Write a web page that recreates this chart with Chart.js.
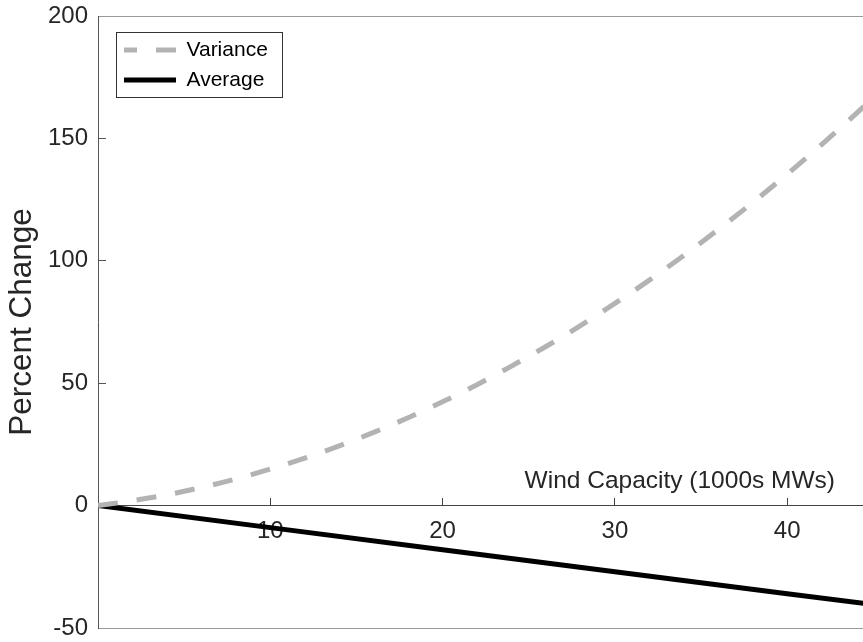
<!DOCTYPE html>
<html>
<head>
<meta charset="utf-8">
<script src="https://cdn.jsdelivr.net/npm/chart.js@4/dist/chart.umd.min.js"></script>
<style>
  html, body { margin: 0; padding: 0; background: #ffffff; }
  #c { display: block; }
</style>
</head>
<body>
<canvas id="c" width="863" height="642"></canvas>
<script>
// Wind capacity (thousands of MW) at which the variance curve was sampled
const capacity = [0, 2, 4, 6, 8, 10, 12, 14, 16, 18, 20, 22, 24, 26, 28, 30, 32, 34, 36, 38, 40, 42, 44, 44.5];
// Percent change in variance
const variancePct = [0, 2.0, 4.4, 7.4, 10.9, 14.9, 19.4, 24.4, 29.9, 35.9, 42.4, 49.4, 57.0, 65.0, 73.5, 82.6, 92.1, 102.2, 112.8, 123.8, 135.4, 147.5, 160.1, 163.3];
// Percent change in the average
const averageCapacity = [0, 10, 20, 30, 40, 44.5];
const averagePct = [0, -9, -18, -27, -36, -40];

// Axis ticks
const xTickValues = [10, 20, 30, 40];
const yTickValues = [-50, 0, 50, 100, 150, 200];
const xMin = 0, xMax = 44.4;
const yMin = -50, yMax = 200;

const FONT = '"Liberation Sans", Arial, Helvetica, sans-serif';
const TEXT = '#262626';
const xTitle = 'Wind Capacity (1000s MWs)';

function points(xs, ys) {
  return xs.map((x, i) => ({ x: x, y: ys[i] }));
}

// Places the legend inside the plot, draws its frame and the x-axis caption
const decorations = {
  id: 'decorations',
  afterLayout(chart) {
    const lg = chart.legend;
    const ca = chart.chartArea;
    lg.left = ca.left + 17;
    lg.top = ca.top + 14.5;
    lg.right = lg.left + lg.width;
    lg.bottom = lg.top + lg.height;
  },
  afterDraw(chart) {
    const ctx = chart.ctx;
    const lg = chart.legend;
    const ca = chart.chartArea;
    const pad = lg.options.labels.padding;
    const rows = lg.legendHitBoxes;
    const last = rows[rows.length - 1];
    const w = Math.max.apply(null, rows.map(r => r.width));
    // frame around the legend entries
    const fx = Math.round(lg.left) + 1.5;
    const fy = Math.round(lg.top) + 1.5;
    const fw = Math.round(pad + w + 13);
    const fh = Math.round(2 * pad + rows.length * last.height + (rows.length - 1) * pad - 4);
    ctx.save();
    ctx.strokeStyle = '#333333';
    ctx.lineWidth = 1;
    ctx.strokeRect(fx, fy, fw, fh);
    ctx.fillStyle = TEXT;
    ctx.font = '24.5px ' + FONT;
    ctx.textAlign = 'right';
    ctx.textBaseline = 'alphabetic';
    ctx.fillText(xTitle, ca.right - 28, chart.scales.y.getPixelForValue(0) - 18);
    ctx.restore();
  }
};

new Chart(document.getElementById('c'), {
  type: 'line',
  data: {
    datasets: [
      {
        label: 'Variance',
        data: points(capacity, variancePct),
        borderColor: '#b3b3b3',
        backgroundColor: '#b3b3b3',
        borderWidth: 5,
        borderDash: [20, 19],
        pointRadius: 0,
        cubicInterpolationMode: 'monotone',
        fill: false
      },
      {
        label: 'Average',
        data: points(averageCapacity, averagePct),
        borderColor: '#000000',
        backgroundColor: '#000000',
        borderWidth: 5,
        pointRadius: 0,
        fill: false
      }
    ]
  },
  options: {
    responsive: false,
    animation: false,
    events: [],
    layout: { padding: { top: 16, bottom: 14, left: 0, right: 0 } },
    scales: {
      x: {
        type: 'linear',
        position: { y: 0 },
        min: xMin,
        max: xMax,
        afterBuildTicks(scale) { scale.ticks = xTickValues.map(v => ({ value: v })); },
        grid: { display: true, drawOnChartArea: false, drawTicks: true, tickLength: -8, tickColor: '#444444', tickWidth: 1 },
        border: { display: true, color: '#444444', width: 1 },
        ticks: { color: TEXT, font: { family: FONT, size: 24 }, padding: 19, maxRotation: 0, autoSkip: false }
      },
      xTop: {
        type: 'linear',
        position: 'top',
        min: xMin,
        max: xMax,
        grid: { display: false, drawTicks: false },
        border: { display: true, color: '#9a9a9a', width: 1 },
        ticks: { display: false }
      },
      xBottom: {
        type: 'linear',
        position: 'bottom',
        min: xMin,
        max: xMax,
        grid: { display: false, drawTicks: false },
        border: { display: true, color: '#9a9a9a', width: 1 },
        ticks: { display: false }
      },
      y: {
        type: 'linear',
        position: 'left',
        min: yMin,
        max: yMax,
        afterBuildTicks(scale) { scale.ticks = yTickValues.map(v => ({ value: v })); },
        afterFit(scale) {
          scale.width = 98;
          scale.paddingTop = 0;
          scale.paddingBottom = 0;
        },
        grid: { display: true, drawOnChartArea: false, drawTicks: true, tickLength: -8, tickColor: '#555555', tickWidth: 1 },
        border: { display: true, color: '#555555', width: 1 },
        ticks: { color: TEXT, font: { family: FONT, size: 24 }, padding: 18 },
        title: { display: true, text: 'Percent Change', color: TEXT, font: { family: FONT, size: 31.5 }, padding: { top: 3, bottom: 0 } }
      }
    },
    plugins: {
      tooltip: { enabled: false },
      legend: {
        display: true,
        position: 'chartArea',
        align: 'start',
        labels: {
          usePointStyle: true,
          pointStyle: 'line',
          pointStyleWidth: 52,
          boxWidth: 52,
          padding: 9,
          color: '#000000',
          font: { family: FONT, size: 21 },
          generateLabels(chart) {
            const items = Chart.defaults.plugins.legend.labels.generateLabels(chart);
            items.forEach(it => {
              const ds = chart.data.datasets[it.datasetIndex];
              it.strokeStyle = ds.borderColor;
              it.fillStyle = ds.borderColor;
              it.lineWidth = ds.borderWidth;
              it.lineDash = ds.borderDash || [];
              it.lineDashOffset = ds.borderDash ? 7 : 0;
            });
            return items;
          }
        }
      }
    }
  },
  plugins: [decorations]
});
</script>
</body>
</html>
